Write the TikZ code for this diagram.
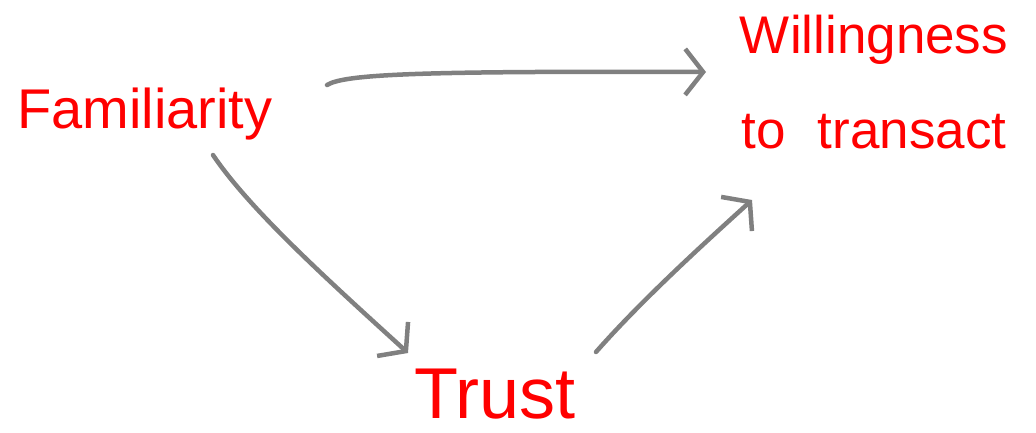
\documentclass[tikz,border=0pt]{standalone}
\usepackage{fontspec}
\setmainfont{Liberation Sans}
\usetikzlibrary{arrows.meta}
\tikzset{
  label/.style={text=red, inner sep=0pt},
  arr/.style={draw=gray, line width=4.5pt, line cap=round,
    -{Straight Barb[length=18pt, width=46pt, line width=4.5pt]}},
}
\begin{document}
\begin{tikzpicture}[x=1pt, y=1pt]
  \useasboundingbox (0,0) rectangle (1036,432);
  \node[label, font=\fontsize{56}{60}\selectfont] (fam) at (145,318) {Familiarity};
  \node[label, font=\fontsize{53}{95}\selectfont, align=center] (will) at (874,350) {Willingness\\to\hspace{0.6em}transact};
  \node[label, font=\fontsize{72}{76}\selectfont] (trust) at (495,38) {Trust};
  % arrows
  \draw[arr] ([shift={(182,29)}]fam.center) .. controls (345,358) and (420,361) .. ([shift={(-168,10)}]will.center);
  \draw[arr] ([shift={(68,-41)}]fam.center) .. controls (250,222) and (330,150) .. ([shift={(-87,41)}]trust.center);
  \draw[arr] ([shift={(101,42)}]trust.center) .. controls (640,130) and (700,185) .. ([shift={(-122,-118)}]will.center);
\end{tikzpicture}
\end{document}
